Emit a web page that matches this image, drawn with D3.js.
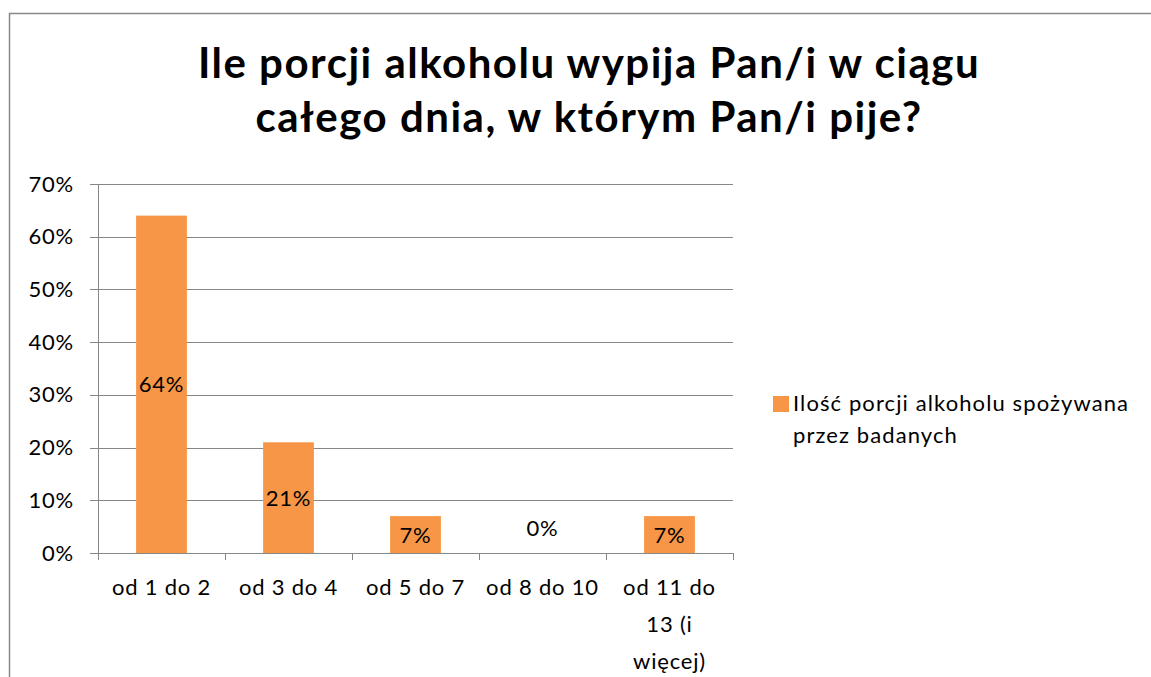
<!DOCTYPE html>
<html><head><meta charset="utf-8">
<script src="https://cdn.jsdelivr.net/npm/d3@7"></script>
<style>html,body{margin:0;padding:0;background:#fff;}svg{display:block;font-family:Lato,"Open Sans",sans-serif;}</style>
</head><body>
<svg id="c" width="1151" height="677"></svg>
<script>
const titleLines = ["Ile porcji alkoholu wypija Pan/i w ciągu", "całego dnia, w którym Pan/i pije?"];
const categories = ["od 1 do 2", "od 3 do 4", "od 5 do 7", "od 8 do 10", "od 11 do 13 (i więcej)"];
const categoryLines = [["od 1 do 2"], ["od 3 do 4"], ["od 5 do 7"], ["od 8 do 10"], ["od 11 do", "13 (i", "więcej)"]];
const values = [0.64, 0.21, 0.07, 0.00, 0.07];
const valueLabels = ["64%", "21%", "7%", "0%", "7%"];
const yTicks = [0, 0.1, 0.2, 0.3, 0.4, 0.5, 0.6, 0.7];
const seriesName = ["Ilość porcji alkoholu spożywana", "przez badanych"];

const svg = d3.select("#c");
const color = "#F79646", gridC = "#868686", fs = 22, ls = 0.8;

svg.append("rect").attr("x", 9.5).attr("y", 13.5).attr("width", 1160).attr("height", 700)
  .attr("fill", "#fff").attr("stroke", "#888").attr("stroke-width", 1.5);

const t = svg.append("text").attr("text-anchor", "middle").attr("font-weight", "bold")
  .attr("font-size", 42).attr("letter-spacing", 1.5).attr("fill", "#000");
titleLines.forEach((l, i) => t.append("tspan").attr("x", 589).attr("y", 78 + i * 54).text(l));

const x = d3.scaleBand().domain(categories).range([98, 733]).paddingInner(0.6).paddingOuter(0.3);
const y = d3.scaleLinear().domain([0, 0.7]).range([553, 184]);

const grid = svg.append("g");
grid.selectAll("line").data(yTicks).join("line")
  .attr("x1", 90).attr("x2", 733).attr("y1", d => Math.round(y(d)) + 0.5).attr("y2", d => Math.round(y(d)) + 0.5)
  .attr("stroke", gridC).attr("stroke-width", 1);
grid.selectAll("text").data(yTicks).join("text")
  .attr("x", 74).attr("y", d => y(d) + 7.5).attr("text-anchor", "end").attr("font-size", fs)
  .attr("letter-spacing", ls).attr("fill", "#000")
  .text(d => Math.round(d * 100) + "%");

svg.append("g").selectAll("rect").data(values).join("rect")
  .attr("x", (d, i) => x(categories[i])).attr("width", x.bandwidth())
  .attr("y", d => y(d)).attr("height", d => y(0) - y(d)).attr("fill", color);

// axes
svg.append("line").attr("x1", 98.5).attr("x2", 98.5).attr("y1", 184).attr("y2", 559).attr("stroke", gridC);
svg.append("line").attr("x1", 98).attr("x2", 733).attr("y1", 553.5).attr("y2", 553.5).attr("stroke", gridC);
const edges = d3.range(categories.length + 1).map(i => 98 + i * (733 - 98) / categories.length);
svg.append("g").selectAll("line").data(edges).join("line")
  .attr("x1", d => Math.round(d) + 0.5).attr("x2", d => Math.round(d) + 0.5).attr("y1", 553).attr("y2", 560).attr("stroke", gridC);

svg.append("g").selectAll("text").data(values).join("text")
  .attr("x", (d, i) => x(categories[i]) + x.bandwidth() / 2)
  .attr("y", d => (d === 0 ? y(0) - 25 : (y(d) + y(0)) / 2) + 8)
  .attr("text-anchor", "middle").attr("font-size", fs).attr("letter-spacing", ls).attr("fill", "#000")
  .text((d, i) => valueLabels[i]);

const cl = svg.append("g");
categoryLines.forEach((lines, i) => {
  const tx = cl.append("text").attr("text-anchor", "middle").attr("font-size", fs).attr("letter-spacing", ls).attr("fill", "#000");
  lines.forEach((l, j) => tx.append("tspan").attr("x", x(categories[i]) + x.bandwidth() / 2).attr("y", 595 + j * 37).text(l));
});

svg.append("rect").attr("x", 773).attr("y", 396).attr("width", 16).attr("height", 16).attr("fill", color);
const lg = svg.append("text").attr("font-size", fs).attr("letter-spacing", 1.1).attr("fill", "#000");
seriesName.forEach((l, j) => lg.append("tspan").attr("x", 793).attr("y", 411 + j * 32).text(l));
</script>
</body></html>
